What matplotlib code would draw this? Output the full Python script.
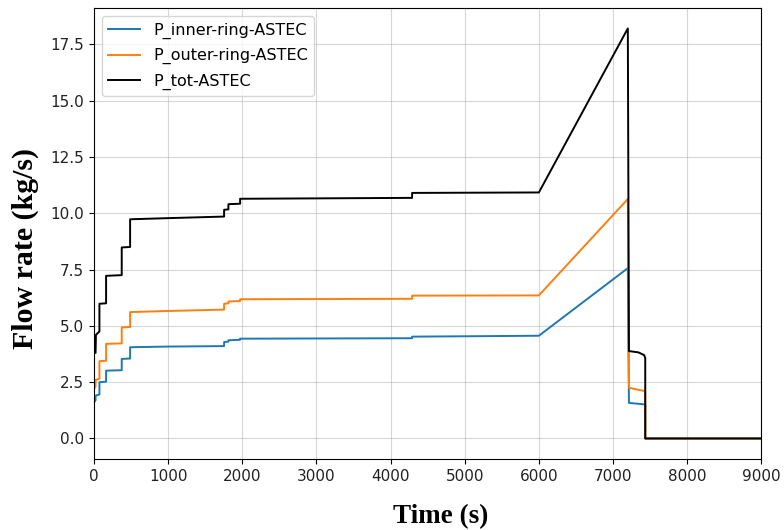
import numpy as np
import matplotlib
matplotlib.use("Agg")
import matplotlib.pyplot as plt

# Data (time in s, flow rate in kg/s)
t_inner = [0, 20, 20, 72, 72, 162, 162, 373, 373, 486, 486, 1000, 1754, 1754, 1812, 1812,
           1970, 1970, 4290, 4290, 6000, 7200, 7215, 7435, 7435, 9000]
p_inner = [1.6, 1.7, 1.9, 1.95, 2.5, 2.52, 3.01, 3.03, 3.53, 3.55, 4.05, 4.08, 4.1, 4.28, 4.3, 4.36,
           4.38, 4.43, 4.45, 4.52, 4.56, 7.56, 1.58, 1.51, 0.0, 0.0]

t_outer = [0, 20, 20, 72, 72, 162, 162, 373, 373, 486, 486, 1000, 1754, 1754, 1812, 1812,
           1970, 1970, 4290, 4290, 6000, 7200, 7215, 7435, 7435, 9000]
p_outer = [2.2, 2.3, 2.6, 2.65, 3.43, 3.45, 4.2, 4.22, 4.93, 4.95, 5.61, 5.66, 5.72, 5.98, 6.0, 6.08,
           6.1, 6.18, 6.2, 6.34, 6.35, 10.63, 2.25, 2.1, 0.0, 0.0]

t_tot = [0, 20, 25, 72, 72, 162, 162, 373, 373, 486, 486, 1000, 1754, 1754, 1812, 1812,
         1970, 1970, 4290, 4290, 6000, 7200, 7215, 7345, 7420, 7435, 7435, 9000]
p_tot = [3.8, 3.8, 4.6, 4.75, 5.98, 6.0, 7.22, 7.25, 8.48, 8.5, 9.73, 9.78, 9.85, 10.15, 10.17, 10.4,
         10.42, 10.64, 10.68, 10.9, 10.92, 18.2, 3.88, 3.82, 3.7, 3.57, 0.0, 0.0]

x_ticks = np.arange(0, 9001, 1000)
y_ticks = [0.0, 2.5, 5.0, 7.5, 10.0, 12.5, 15.0, 17.5]

fig = plt.figure(figsize=(7.84, 5.30), dpi=100)
ax = fig.add_axes([0.12, 0.134, 0.851, 0.851])

ax.plot(t_inner, p_inner, color="C0", lw=1.4, label="P_inner-ring-ASTEC")
ax.plot(t_outer, p_outer, color="C1", lw=1.4, label="P_outer-ring-ASTEC")
ax.plot(t_tot, p_tot, color="k", lw=1.4, label="P_tot-ASTEC")

ax.set_xlim(0, 9000)
ax.set_xticks(x_ticks)
ax.set_yticks(y_ticks)
ax.tick_params(labelsize=11, labelcolor="#222222")
ax.grid(True, color="#b0b0b0", alpha=0.5)

ax.set_xlabel("Time (s)", fontsize=19.5, fontweight="bold", family="Liberation Serif")
ax.set_ylabel("Flow rate (kg/s)", fontsize=21.5, fontweight="bold", family="Liberation Serif")
ax.xaxis.set_label_coords(0.52, -0.099)
ax.yaxis.set_label_coords(-0.083, 0.466)
ax.legend(loc="upper left", fontsize=11.5, labelspacing=0.6)

fig.savefig("out.png", dpi=100)
